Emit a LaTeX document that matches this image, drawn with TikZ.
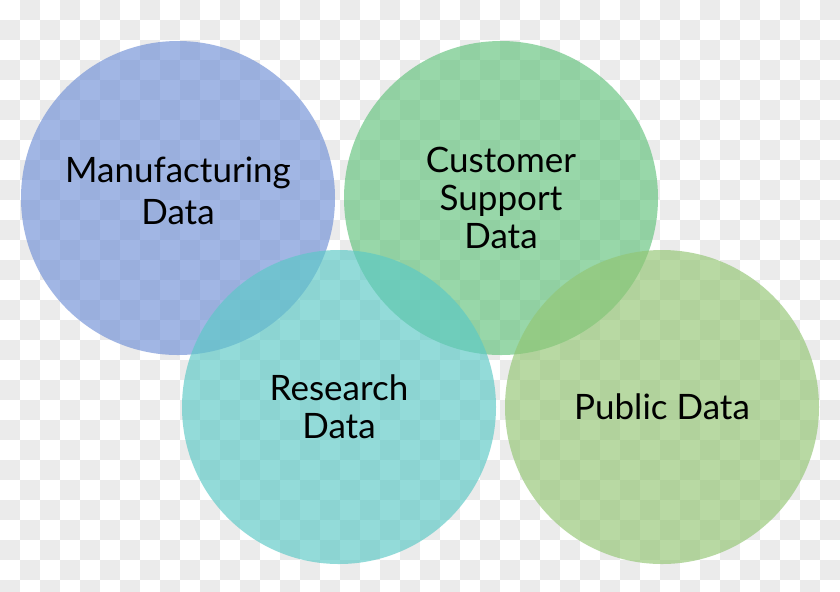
\documentclass[tikz,border=0pt]{standalone}
\usepackage{fontspec}
\setmainfont{Lato}
\definecolor{manublue}{RGB}{111,143,214}
\definecolor{custgreen}{RGB}{97,195,124}
\definecolor{restteal}{RGB}{90,201,198}
\definecolor{pubgreen}{RGB}{146,198,115}
\definecolor{checkgray}{RGB}{235,235,235}
\begin{document}
\begin{tikzpicture}[x=0.5pt,y=-0.5pt]
            \tikzset{Set/.style={%
                    shape=circle,%
                    minimum size=157pt,%
                    inner sep=0pt,%
                    fill opacity=0.65,%
                    text opacity=1,%
                    align=center,%
                    font=\fontsize{17.5}{19}\selectfont,%
                    node distance=161.5pt,%
                }}
                \useasboundingbox (0,0) rectangle (840,591);
                % checker background
                \fill[white] (0,0) rectangle (840,591);
                \begin{scope}
                \clip (0,0) rectangle (840,591);
                \foreach \j in {0,...,29}{
                    \pgfmathtruncatemacro\s{mod(\j+1,2)}
                    \foreach \i in {0,...,20}
                        \fill[checkgray] ({(2*\i+\s)*20},{\j*20}) rectangle +(20,20);
                }
                \end{scope}

                \node[Set, fill=manublue] (1) at (178,198) {Manufacturing\\[2pt]Data\\[-12pt]};
                \node[Set, fill=custgreen, right of=1] (2) {Customer\\Support\\Data};
                \node[Set, fill=restteal] (3) at (339,407) {Research\\Data};
                \node[Set, fill=pubgreen, right of=3] (4) {Public Data};
        \end{tikzpicture}
\end{document}
